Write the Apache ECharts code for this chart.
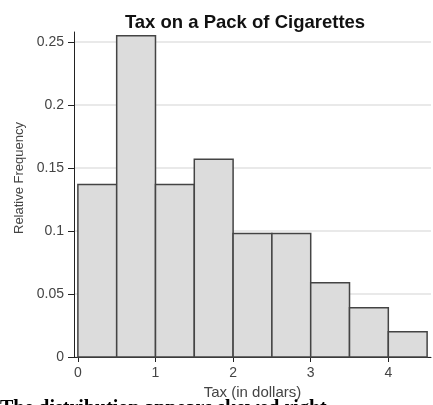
<!DOCTYPE html>
<html>
<head>
<meta charset="utf-8">
<script src="https://cdn.jsdelivr.net/npm/echarts@6/dist/echarts.min.js"></script>
<style>
html,body{margin:0;padding:0;background:#fff;}
#chart{width:433px;height:405px;}
</style>
</head>
<body>
<div id="chart"></div>
<script>
// Data
const binStarts = [0, 0.5, 1, 1.5, 2, 2.5, 3, 3.5, 4];
const binEnds   = [0.5, 1, 1.5, 2, 2.5, 3, 3.5, 4, 4.5];
const relFreq   = [0.137, 0.255, 0.137, 0.157, 0.098, 0.098, 0.059, 0.039, 0.020];
const xTicks    = [0, 1, 2, 3, 4];
const yTicks    = [0, 0.05, 0.1, 0.15, 0.2, 0.25];
const titleText = 'Tax on a Pack of Cigarettes';
const xName     = 'Tax (in dollars)';
const yName     = 'Relative Frequency';
const captionText = 'The distribution appears skewed right.';

const chart = echarts.init(document.getElementById('chart'), null, {renderer: 'canvas'});
const font = 'Liberation Sans, Arial, Helvetica, sans-serif';

const data = binStarts.map((s, i) => [s, binEnds[i], relFreq[i]]);

chart.setOption({
  animation: false,
  backgroundColor: '#fff',
  title: {
    text: titleText,
    left: 240, textAlign: 'center',
    top: 8,
    textStyle: {fontFamily: font, fontSize: 18.5, fontWeight: 'bold', color: '#111'}
  },
  grid: {left: 74, right: 2, top: 32, bottom: 48, containLabel: false},
  xAxis: {
    type: 'value',
    min: -0.05, max: 4.55,
    name: xName,
    nameLocation: 'middle',
    nameGap: 28,
    nameTextStyle: {fontFamily: font, fontSize: 15, color: '#444'},
    axisLine: {show: true, onZero: false, lineStyle: {color: '#222', width: 1}},
    axisTick: {show: true, customValues: xTicks, length: 5, lineStyle: {color: '#222'}},
    axisLabel: {customValues: xTicks, margin: 9, fontFamily: font, fontSize: 14, color: '#444',
      formatter: v => String(v)},
    splitLine: {show: false}
  },
  yAxis: {
    type: 'value',
    min: 0, max: 0.258,
    name: yName,
    nameLocation: 'middle',
    nameGap: 34,
    nameRotate: 90,
    nameTextStyle: {fontFamily: font, fontSize: 13, color: '#444', padding: [0, 0, 0, 33]},
    axisLine: {show: true, onZero: false, lineStyle: {color: '#222', width: 1}},
    axisTick: {show: true, customValues: yTicks, length: 6, lineStyle: {color: '#222'}},
    axisLabel: {customValues: yTicks, margin: 10, fontFamily: font, fontSize: 14, color: '#444',
      formatter: v => String(+v.toFixed(2))},
    splitLine: {show: true, lineStyle: {color: '#e2e2e2', width: 1.5}},
    interval: 0.05
  },
  series: [{
    type: 'custom',
    data: data,
    encode: {x: [0, 1], y: 2},
    renderItem: function (params, api) {
      const p0 = api.coord([api.value(0), 0]);
      const p1 = api.coord([api.value(1), api.value(2)]);
      return {
        type: 'rect',
        shape: {x: p0[0], y: p1[1], width: p1[0] - p0[0], height: p0[1] - p1[1]},
        style: {fill: '#dcdcdc', stroke: '#444', lineWidth: 1.5}
      };
    },
    z: 2
  }],
  graphic: [{
    type: 'text',
    left: 0, top: 399,
    style: {text: captionText, font: 'bold 20px "Liberation Serif", "Times New Roman", serif', fill: '#000'}
  }]
});
</script>
</body>
</html>
